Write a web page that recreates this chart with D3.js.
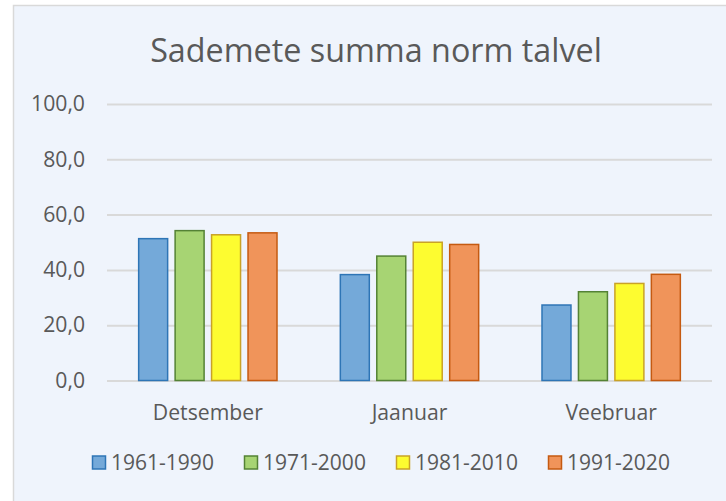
<!DOCTYPE html>
<html>
<head>
<meta charset="utf-8">
<script src="https://cdn.jsdelivr.net/npm/d3@7"></script>
<style>
  body { margin: 0; background: #fff; }
  text { font-family: "Open Sans", sans-serif; fill: #595959; }
</style>
</head>
<body>
<svg id="chart" width="726" height="501"></svg>
<script>
// data
let months = ['Detsember', 'Jaanuar', 'Veebruar']
let periods = ['1961-1990', '1971-2000', '1981-2010', '1991-2020']
let v1961 = [51.3, 38.3, 27.3]
let v1971 = [54.2, 45.0, 32.1]
let v1981 = [52.7, 50.0, 35.1]
let v1991 = [53.4, 49.2, 38.4]
let yTicks = [0, 20, 40, 60, 80, 100]

let values = [v1961, v1971, v1981, v1991]
let fills = ['#74a9d9', '#a7d473', '#fdfc30', '#f0945a']
let strokes = ['#2e75b6', '#548235', '#c9a227', '#c55a11']

let svg = d3.select('#chart')

// fit a text's font size so it takes the given width
function fitWidth(sel, base, target) {
  sel.attr('font-size', base + 'px')
  let w = sel.node().getComputedTextLength()
  sel.attr('font-size', (base * target / w) + 'px')
  return base * target / w
}

// chart area
svg.append('rect')
  .attr('x', 13.5).attr('y', 5.5)
  .attr('width', 720).attr('height', 520)
  .style('fill', '#eff4fc')
  .style('stroke', '#d9d9d9')
  .style('stroke-width', 1.5)

// scales
let x0 = d3.scaleBand().domain(months).range([107, 712])
let bw = x0.bandwidth()
let x1 = d3.scaleBand().domain(periods).range([bw * 0.157, bw * 0.843]).paddingInner(0.205)
let y = d3.scaleLinear().domain([0, 100]).range([380.5, 104])

// title
let title = svg.append('text')
  .attr('x', 376).attr('y', 62)
  .attr('text-anchor', 'middle')
  .text('Sademete summa norm talvel')
fitWidth(title, 30, 452)

// grid + y labels
let yAxis = d3.axisLeft(y).tickValues(yTicks).tickSize(-(712 - 107)).tickPadding(22)
  .tickFormat(d => d3.format('.1f')(d).replace('.', ','))
let ga = svg.append('g').attr('transform', 'translate(107,0)').call(yAxis)
ga.select('.domain').remove()
ga.selectAll('line').style('stroke', '#d9d9d9').style('stroke-width', 2)
ga.selectAll('text').style('fill', '#595959')
  .style('font-family', '"Open Sans", sans-serif')
let tickSize = fitWidth(ga.selectAll('text').filter(d => d === 100), 20, 54)
ga.selectAll('text').attr('font-size', tickSize + 'px')

// bars
for (let s = 0; s < periods.length; s++) {
  svg.append('g').selectAll('rect')
    .data(months)
    .join('rect')
    .attr('x', (m) => x0(m) + x1(periods[s]))
    .attr('y', (m, i) => y(values[s][i]))
    .attr('width', x1.bandwidth())
    .attr('height', (m, i) => y(0) - y(values[s][i]))
    .style('fill', fills[s])
    .style('stroke', strokes[s])
    .style('stroke-width', 1.5)
}

// category labels
let cats = svg.append('g').selectAll('text')
  .data(months)
  .join('text')
  .attr('x', (m) => x0(m) + bw / 2)
  .attr('y', 420)
  .attr('text-anchor', 'middle')
  .text((m) => m)
let catSize = fitWidth(cats.filter(m => m === 'Detsember'), 19, 110)
cats.attr('font-size', catSize + 'px')

// legend
let lg = svg.append('g').attr('transform', 'translate(92,463)')
for (let s = 0; s < periods.length; s++) {
  let item = lg.append('g').attr('transform', `translate(${s * 152},0)`)
  item.append('rect')
    .attr('x', 0.5).attr('y', -7)
    .attr('width', 13).attr('height', 13)
    .style('fill', fills[s]).style('stroke', strokes[s]).style('stroke-width', 1.5)
  let t = item.append('text')
    .attr('x', 19).attr('y', 7)
    .text(periods[s])
  fitWidth(t, 19, 103)
}
</script>
</body>
</html>
